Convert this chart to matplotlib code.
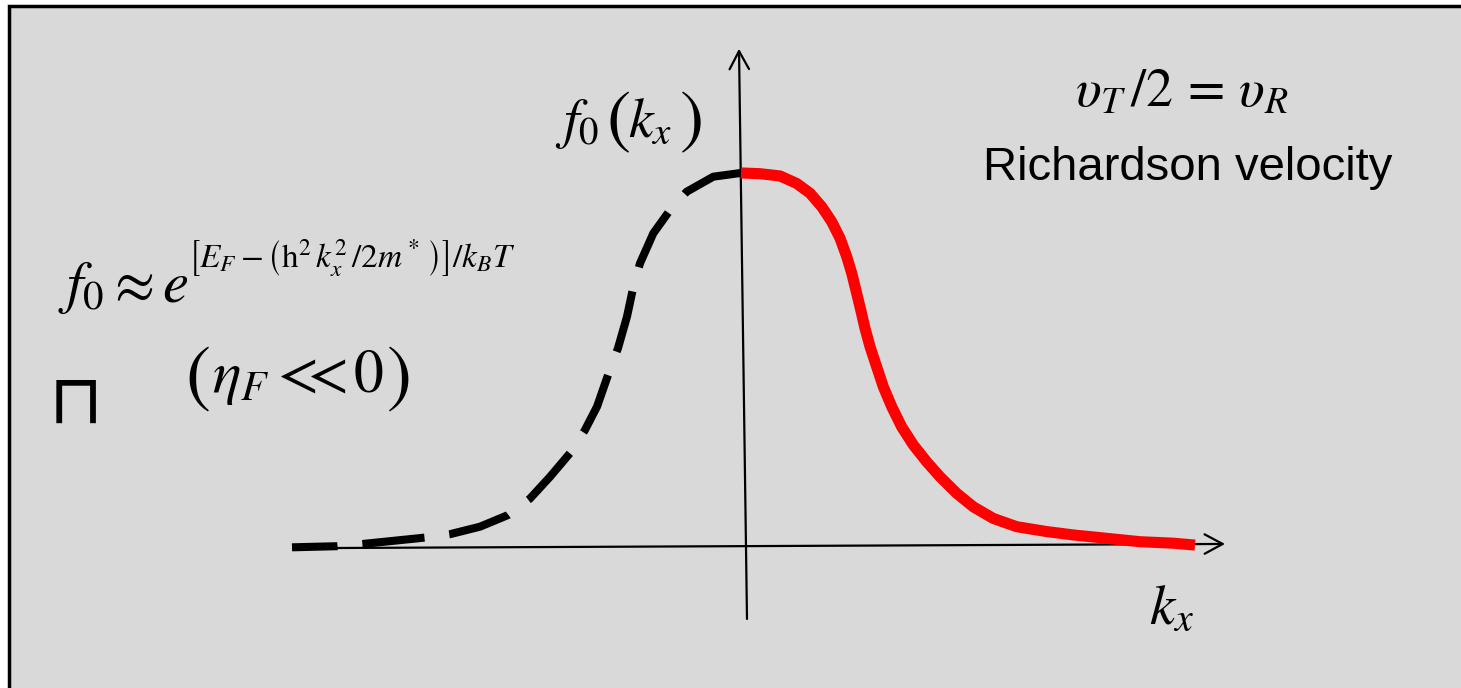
#!/usr/bin/env python

#libraries
import numpy as np
import matplotlib
matplotlib.use("Agg")
import matplotlib.pyplot as plt
from matplotlib.patches import Rectangle

plt.rcParams['mathtext.fontset'] = 'stix'

#distribution sampled along kx (arbitrary units), f0 normalised to its peak
kx_neg = [-4.49, -4.04, -3.78, -3.16, -2.91, -2.61, -2.33, -2.11, -1.91, -1.71,
          -1.56, -1.44, -1.33, -1.23, -1.14, -1.08, -1.01, -0.877, -0.71,
          -0.543, -0.277, 0.0]
f0_neg = [0.002, 0.005, 0.011, 0.028, 0.037, 0.057, 0.088, 0.132, 0.190, 0.253,
          0.315, 0.377, 0.461, 0.533, 0.617, 0.692, 0.759, 0.839, 0.901,
          0.950, 0.990, 1.0]

kx_pos = [0.0, 0.19, 0.39, 0.557, 0.69, 0.807, 0.907, 0.99, 1.057, 1.107,
          1.157, 1.197, 1.24, 1.29, 1.357, 1.423, 1.507, 1.607, 1.723, 1.857,
          1.99, 2.157, 2.323, 2.523, 2.757, 3.057, 3.323, 3.657, 3.99, 4.323,
          4.54]
f0_pos = [1.0, 0.998, 0.992, 0.972, 0.946, 0.910, 0.870, 0.826, 0.777, 0.733,
          0.679, 0.635, 0.586, 0.537, 0.483, 0.430, 0.377, 0.323, 0.275, 0.230,
          0.190, 0.146, 0.110, 0.079, 0.057, 0.044, 0.035, 0.026, 0.017, 0.013,
          0.008]

#canvas: one axes covering the whole figure
W, H = 1461, 688
fig = plt.figure(figsize=(W/100, H/100), dpi=100, facecolor='white')
fig.patches.append(Rectangle((9/W, -0.1), 1.2, 1.1 - 6/H, transform=fig.transFigure,
                             facecolor='#d9d9d9', edgecolor='black', lw=2.5,
                             zorder=0))

ax = fig.add_axes([0, 0, 1, 1], zorder=2)
ax.set_facecolor('none')
ax.set_xlim(-7.41, 7.20)
ax.set_ylim(-0.373, 1.461)
ax.axis('off')

#kx and f0 axes with open arrow heads
arrow = dict(arrowstyle='->,head_length=0.65,head_width=0.35', lw=1.6,
             color='black', mutation_scale=20, shrinkA=0, shrinkB=0)
ax.annotate('', xy=(4.84, 0.011), xytext=(-4.20, 0.0), arrowprops=arrow)
ax.annotate('', xy=(-0.02, 1.331), xytext=(0.06, -0.189), arrowprops=arrow)

#left half dashed, right half (electrons moving +x) in red
ax.plot(kx_neg, f0_neg, color='black', lw=5.8, linestyle=(2.1, (7.75, 3.1)),
        dash_capstyle='butt', dash_joinstyle='round', zorder=3)
ax.plot(kx_pos, f0_pos, color='red', lw=8, solid_capstyle='butt',
        solid_joinstyle='round', zorder=4)

#labels
def put(px, py, s, size, **kw):
    fig.text(px/W, 1 - py/H, s, fontsize=size, zorder=5, **kw)

#f0(kx) with tall brackets
put(555, 137, r'$f_0$', 40, ha='left', va='baseline')
put(618, 121, r'$($', 52, ha='center', va='center')
put(628, 137, r'$k_x$', 40, ha='left', va='baseline')
put(690, 121, r'$)$', 52, ha='center', va='center')

put(1182, 92, r'$\upsilon_T\,/2\,=\,\upsilon_R$', 39, ha='center', va='center')
put(1188, 180, 'Richardson velocity', 34, ha='center', va='baseline',
    family='Liberation Sans')
put(1172, 608, r'$k_x$', 41, ha='center', va='center')

put(58, 302, r'$f_0\approx e$', 42, ha='left', va='baseline')
put(188, 258, r'$\left[E_F-\left(\mathrm{h}^2\,k_x^2\,/2m^*\,\right)\right]/k_BT$', 24,
    ha='left', va='center')

#(eta_F << 0)
put(197, 377, r'$($', 54, ha='center', va='center')
put(212, 392, r'$\eta_F$', 43, ha='left', va='baseline')
put(308, 392, r'${<}\!\!\!\!{<}$', 43, ha='center', va='baseline')
put(368, 392, r'$0$', 43, ha='center', va='baseline')
put(398, 377, r'$)$', 54, ha='center', va='center')

put(76, 403, '\u2293', 50, ha='center', va='center', family='DejaVu Sans')

fig.savefig('out.png', dpi=100, facecolor=fig.get_facecolor())
